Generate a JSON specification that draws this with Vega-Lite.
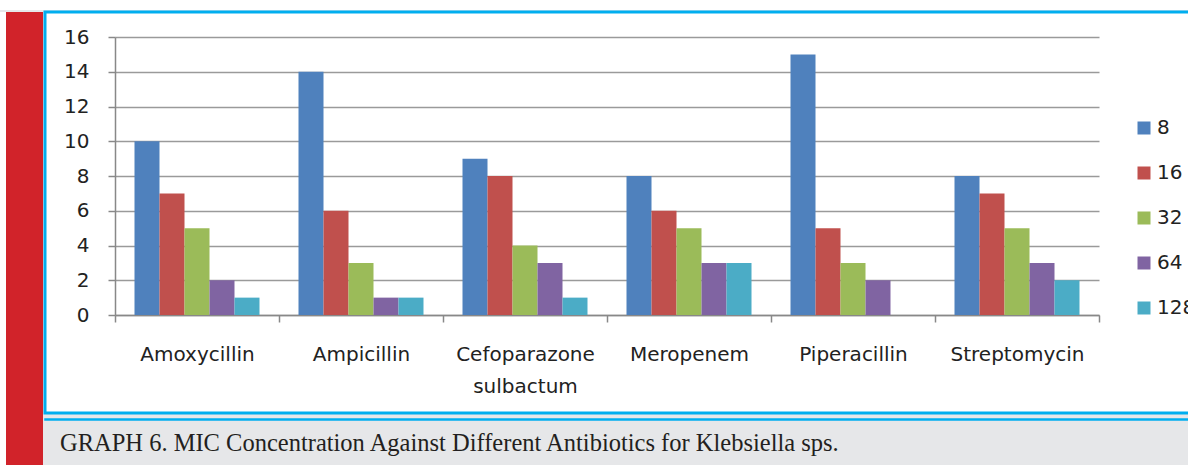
{
  "$schema": "https://vega.github.io/schema/vega-lite/v6.json",
  "background": "#e6e7e9",
  "padding": 0,
  "spacing": 0,
  "config": {
    "view": {"stroke": null},
    "font": "DejaVu Sans",
    "axis": {"labelFont": "DejaVu Sans", "labelColor": "#222222"},
    "legend": {"labelFont": "DejaVu Sans", "labelColor": "#222222"}
  },
  "vconcat": [
    {
      "width": 1200,
      "height": 10,
      "view": {"fill": "white", "stroke": null},
      "data": {"values": []},
      "mark": "point"
    },
    {
      "spacing": 0,
      "hconcat": [
        {
          "width": 6,
          "height": 455,
          "view": {"fill": "white", "stroke": null},
          "data": {"values": []},
          "mark": "point"
        },
        {
          "width": 37,
          "height": 455,
          "view": {"fill": "#d1232a", "stroke": null},
          "data": {"values": []},
          "mark": "point"
        },
        {
          "spacing": 3,
          "title": {
            "text": "GRAPH 6. MIC Concentration Against Different Antibiotics for Klebsiella sps.",
            "orient": "bottom",
            "anchor": "start",
            "frame": "group",
            "offset": 30,
            "dx": 15,
            "baseline": "alphabetic",
            "font": "Liberation Serif",
            "fontSize": 24.5,
            "fontWeight": "normal",
            "color": "#231f20"
          },
          "vconcat": [
            {
              "width": 1150,
              "height": 401,
              "view": {"fill": "white", "stroke": "#00aeef", "strokeWidth": 3},
              "data": {
                "values": [
                  {"antibiotic": "Amoxycillin", "mic": "8", "count": 10},
                  {"antibiotic": "Amoxycillin", "mic": "16", "count": 7},
                  {"antibiotic": "Amoxycillin", "mic": "32", "count": 5},
                  {"antibiotic": "Amoxycillin", "mic": "64", "count": 2},
                  {"antibiotic": "Amoxycillin", "mic": "128", "count": 1},
                  {"antibiotic": "Ampicillin", "mic": "8", "count": 14},
                  {"antibiotic": "Ampicillin", "mic": "16", "count": 6},
                  {"antibiotic": "Ampicillin", "mic": "32", "count": 3},
                  {"antibiotic": "Ampicillin", "mic": "64", "count": 1},
                  {"antibiotic": "Ampicillin", "mic": "128", "count": 1},
                  {"antibiotic": "Cefoparazone sulbactum", "mic": "8", "count": 9},
                  {"antibiotic": "Cefoparazone sulbactum", "mic": "16", "count": 8},
                  {"antibiotic": "Cefoparazone sulbactum", "mic": "32", "count": 4},
                  {"antibiotic": "Cefoparazone sulbactum", "mic": "64", "count": 3},
                  {"antibiotic": "Cefoparazone sulbactum", "mic": "128", "count": 1},
                  {"antibiotic": "Meropenem", "mic": "8", "count": 8},
                  {"antibiotic": "Meropenem", "mic": "16", "count": 6},
                  {"antibiotic": "Meropenem", "mic": "32", "count": 5},
                  {"antibiotic": "Meropenem", "mic": "64", "count": 3},
                  {"antibiotic": "Meropenem", "mic": "128", "count": 3},
                  {"antibiotic": "Piperacillin", "mic": "8", "count": 15},
                  {"antibiotic": "Piperacillin", "mic": "16", "count": 5},
                  {"antibiotic": "Piperacillin", "mic": "32", "count": 3},
                  {"antibiotic": "Piperacillin", "mic": "64", "count": 2},
                  {"antibiotic": "Piperacillin", "mic": "128", "count": 0},
                  {"antibiotic": "Streptomycin", "mic": "8", "count": 8},
                  {"antibiotic": "Streptomycin", "mic": "16", "count": 7},
                  {"antibiotic": "Streptomycin", "mic": "32", "count": 5},
                  {"antibiotic": "Streptomycin", "mic": "64", "count": 3},
                  {"antibiotic": "Streptomycin", "mic": "128", "count": 2}
                ]
              },
              "mark": {"type": "bar"},
              "encoding": {
                "x": {
                  "field": "antibiotic",
                  "type": "nominal",
                  "sort": ["Amoxycillin", "Ampicillin", "Cefoparazone sulbactum", "Meropenem", "Piperacillin", "Streptomycin"],
                  "scale": {"range": [70, 1054], "paddingInner": 0, "paddingOuter": 0},
                  "axis": {
                    "title": null,
                    "orient": "bottom",
                    "offset": -98,
                    "tickBand": "extent",
                    "tickSize": 7,
                    "tickColor": "#888888",
                    "tickWidth": 1.5,
                    "domainColor": "#888888",
                    "domainWidth": 1.5,
                    "labelAngle": 0,
                    "labelFontSize": 20,
                    "labelPadding": 22,
                    "labelLineHeight": 32,
                    "labelExpr": "datum.label == 'Cefoparazone sulbactum' ? ['Cefoparazone', 'sulbactum'] : datum.label"
                  }
                },
                "xOffset": {
                  "field": "mic",
                  "type": "nominal",
                  "sort": ["8", "16", "32", "64", "128"],
                  "scale": {"paddingInner": 0, "paddingOuter": 0.78}
                },
                "y": {
                  "field": "count",
                  "type": "quantitative",
                  "scale": {"domain": [0, 16], "range": [303, 25], "nice": false},
                  "axis": {
                    "title": null,
                    "offset": -70,
                    "values": [0, 2, 4, 6, 8, 10, 12, 14, 16],
                    "grid": true,
                    "gridColor": "#9a9a9a",
                    "gridWidth": 1.4,
                    "tickSize": 7,
                    "tickColor": "#888888",
                    "tickWidth": 1.5,
                    "domainColor": "#888888",
                    "domainWidth": 1.5,
                    "labelFontSize": 20,
                    "labelPadding": 19
                  }
                },
                "color": {
                  "field": "mic",
                  "type": "nominal",
                  "scale": {
                    "domain": ["8", "16", "32", "64", "128"],
                    "range": ["#4f81bd", "#c0504d", "#9bbb59", "#8064a2", "#4bacc6"]
                  },
                  "legend": {
                    "title": null,
                    "orient": "none",
                    "legendX": 1134,
                    "legendY": 118,
                    "padding": 0,
                    "symbolType": "square",
                    "symbolSize": 169,
                    "symbolStrokeWidth": 0,
                    "symbolOpacity": 1,
                    "labelFontSize": 20,
                    "labelOffset": 3,
                    "rowPadding": 25
                  }
                }
              }
            },
            {
              "width": 1150,
              "height": 1,
              "view": {"fill": "#00aeef", "stroke": "#00aeef", "strokeWidth": 1.5},
              "data": {"values": []},
              "mark": "point"
            }
          ]
        }
      ]
    }
  ]
}
